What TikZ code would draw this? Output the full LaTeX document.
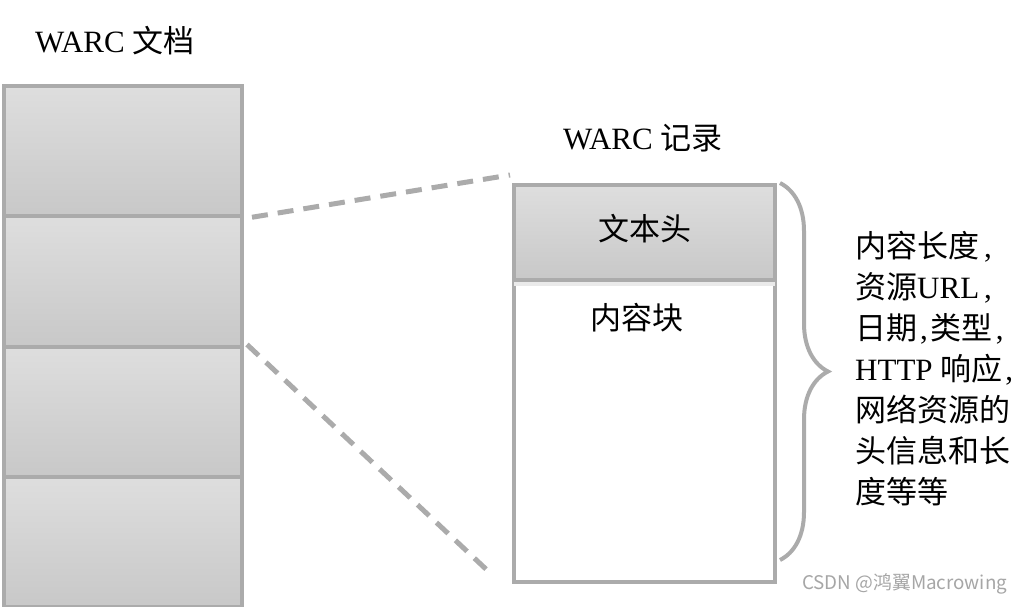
\documentclass[tikz,border=0pt]{standalone}
\usepackage{fontspec}
\setmainfont{Liberation Serif}
\newfontfamily\cjk{Noto Sans CJK SC}
\newcommand\zh[1]{{\cjk #1}}
\newcommand\cm{\kern3pt,\kern3pt}
\usetikzlibrary{decorations.pathreplacing}
\definecolor{edgegray}{HTML}{ABABAB}
\definecolor{gtop}{HTML}{DEDEDE}
\definecolor{gbot}{HTML}{C8C8C8}
\definecolor{stripgray}{HTML}{EAEAEA}
\begin{document}
\begin{tikzpicture}[x=1pt,y=-1pt,
  blk/.style={draw=edgegray,line width=4pt,top color=gtop,bottom color=gbot,
    minimum width=238pt,minimum height=130.25pt,inner sep=0pt,anchor=north west},
  hdrbox/.style={draw=edgegray,line width=4pt,top color=gtop,bottom color=gbot,
    minimum width=261pt,minimum height=95pt,inner sep=0pt,anchor=north west},
  bodybox/.style={draw=edgegray,line width=4pt,fill=white,
    minimum width=261pt,minimum height=302pt,inner sep=0pt,anchor=north west},
  lbl/.style={font=\fontsize{31}{41}\selectfont,inner sep=0pt},
  zoomline/.style={draw=edgegray,line width=5pt,dash pattern=on 16pt off 10pt},
  bracestyle/.style={draw=edgegray,line width=4pt,decorate,
    decoration={brace,amplitude=48pt}},
]
\useasboundingbox (0,0) rectangle (1022,606);
\fill[white] (0,0) rectangle (1022,606);

% WARC document stack
\node[lbl,anchor=base west] (doctitle) at (35,52) {WARC \zh{文档}};
\node[blk] (b1) at (2,84) {};
\node[blk] (b2) at (2,214.25) {};
\node[blk] (b3) at (2,344.5) {};
\node[blk] (b4) at (2,474.75) {};

% WARC record
\node[lbl,anchor=base west] (rectitle) at (563,149) {WARC \zh{记录}};
\node[bodybox] (body) at (512,278) {};
\fill[stripgray] ([xshift=2pt,yshift=-2pt]body.north west) rectangle ([xshift=-2pt,yshift=-8pt]body.north east);
\node[hdrbox] (hdr) at (512,183) {};
\node[lbl] (hdrtxt) at ([yshift=4pt]hdr.center) {\zh{文本头}};
\node[lbl] (bodytxt) at (637,318) {\zh{内容块}};

% zoom lines
\coordinate (z1a) at ([xshift=8pt,yshift=-3pt]b2.north east);
\coordinate (z1b) at ([xshift=-2pt,yshift=8pt]hdr.north west);
\coordinate (z2a) at ([xshift=3pt,yshift=0pt]b3.north east);
\coordinate (z2b) at ([xshift=-24pt,yshift=13pt]body.south west);
\draw[zoomline] (z1a) -- (z1b);
\draw[zoomline] (z2a) -- (z2b);

% brace
\coordinate (brtop) at (780,183);
\coordinate (brbot) at (780,560);
\draw[bracestyle] (brtop) -- (brbot);

% info text
\node[lbl,anchor=north west,align=left] (info) at (855,231)
  {\zh{内容长度}\kern5pt,\\
   \zh{资源}URL\kern5pt,\\
   \zh{日期}\cm\zh{类型}\kern3pt,\\
   HTTP \zh{响应}\kern3pt,\\
   \zh{网络资源的}\\
   \zh{头信息和长}\\
   \zh{度等等}};

% watermark
\node[inner sep=0pt,anchor=base west,text=gray!70,font=\cjk\fontsize{18.8}{22}\selectfont] (wm) at (802,589) {CSDN @鸿翼Macrowing};
\end{tikzpicture}
\end{document}
